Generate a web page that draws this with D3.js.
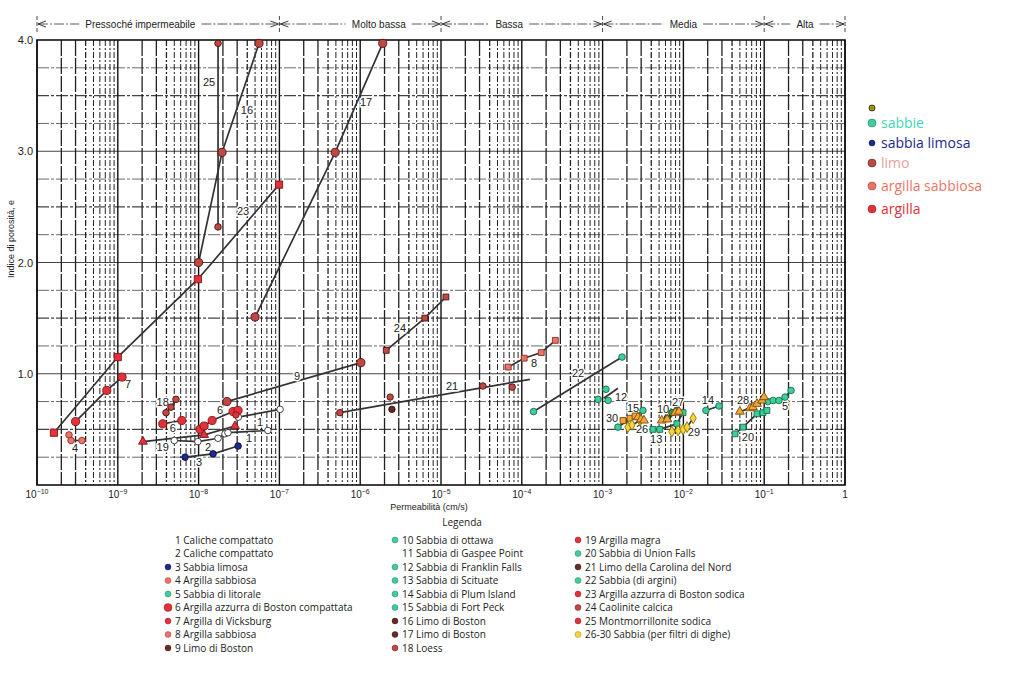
<!DOCTYPE html>
<html>
<head>
<meta charset="utf-8">
<script src="https://cdn.jsdelivr.net/npm/d3@7"></script>
<style>
body{margin:0;background:#fff}
text{font-family:"Liberation Sans",Arial,sans-serif}
.leg{font-family:"Open Sans","Noto Sans",sans-serif}
</style>
</head>
<body>
<div id="chart"></div>
<script>
// permeability k (cm/s) vs void ratio e
var kTicks = [1e-10,1e-9,1e-8,1e-7,1e-6,1e-5,1e-4,1e-3,1e-2,1e-1,1];
var eTicks = [1,2,3,4];
var zones = [
  ["Pressoché impermeabile",1e-10,1e-7,1.9e-9],
  ["Molto bassa",1e-7,1e-5,1.7e-6],
  ["Bassa",1e-5,1e-3,7e-5],
  ["Media",1e-3,1e-1,1.0e-2],
  ["Alta",1e-1,1,3.2e-1]
];

var series = [
  {id:"1",  mat:"white",  shape:"circle",   pts:[[3.1e-8,0.61],[1.02e-7,0.68]]},
  {id:"2",  mat:"white",  shape:"circle",   pts:[[5.0e-9,0.40],[9.8e-9,0.39],[1.74e-8,0.42],[2.12e-8,0.46],[2.31e-8,0.47],[7.2e-8,0.49]]},
  {id:"3",  mat:"navy",   shape:"circle",   pts:[[6.8e-9,0.25],[1.51e-8,0.28],[3.08e-8,0.35]]},
  {id:"4",  mat:"salmon", shape:"circle",   pts:[[2.49e-10,0.45],[2.64e-10,0.40],[3.6e-10,0.40]]},
  {id:"6a", mat:"red",    shape:"circle",   pts:[[3.6e-9,0.55],[6.2e-9,0.58]]},
  {id:"6b", mat:"red",    shape:"circle",   pts:[[1.04e-8,0.50],[1.17e-8,0.53],[1.47e-8,0.58],[2.67e-8,0.66],[3.08e-8,0.67]]},
  {id:"7",  mat:"red",    shape:"circle",   pts:[[3.0e-10,0.57],[7.3e-10,0.85],[1.13e-9,0.97]]},
  {id:"8",  mat:"salmon", shape:"square",   pts:[[6.8e-5,1.06],[1.07e-4,1.14],[1.74e-4,1.19],[2.6e-4,1.30]]},
  {id:"9",  mat:"limo",   shape:"circle",   pts:[[2.24e-8,0.75],[1.02e-6,1.10]]},
  {id:"10", mat:"dgreen", shape:"circle",   pts:[[6.3e-3,0.60],[7.2e-3,0.65],[8.3e-3,0.67]]},
  {id:"12", mat:"sand",   shape:"circle",   pts:[[8.8e-4,0.77],[1.10e-3,0.86],[1.17e-3,0.76]]},
  {id:"13", mat:"sand",   shape:"square",   pts:[[4.2e-3,0.50],[5.1e-3,0.50],[8.3e-3,0.55],[9.9e-3,0.65]]},
  {id:"14", mat:"sand",   shape:"circle",   pts:[[1.9e-2,0.67],[2.76e-2,0.71]]},
  {id:"15", mat:"sand",   shape:"circle",   pts:[[1.55e-3,0.52],[3.16e-3,0.67]]},
  {id:"16", mat:"limo",   shape:"circle",   pts:[[1.0e-8,2.00],[1.95e-8,2.99],[5.6e-8,3.97]]},
  {id:"17", mat:"limo",   shape:"circle",   pts:[[5.0e-8,1.51],[4.9e-7,2.99],[1.9e-6,3.97]]},
  {id:"18", mat:"limo",   shape:"circle",   pts:[[3.95e-9,0.65],[4.55e-9,0.70],[5.25e-9,0.77]]},
  {id:"19", mat:"red",    shape:"triangle", pts:[[2.05e-9,0.39],[1.17e-8,0.45],[2.82e-8,0.53]]},
  {id:"20", mat:"sand",   shape:"square",   pts:[[4.36e-2,0.46],[5.47e-2,0.52],[8.15e-2,0.64],[9.66e-2,0.65],[1.08e-1,0.67]]},
  {id:"5",  mat:"sand",   shape:"circle",   pts:[[1.11e-1,0.75],[1.29e-1,0.76],[1.52e-1,0.76],[1.81e-1,0.79],[2.15e-1,0.85]]},
  {id:"21", mat:"limo",   shape:"circle",   pts:[[5.6e-7,0.65],[3.3e-5,0.89],[7.6e-5,0.88]]},
  {id:"22", mat:"sand",   shape:"circle",   pts:[[1.4e-4,0.66],[1.74e-3,1.15]]},
  {id:"23", mat:"red",    shape:"square",   pts:[[1.62e-10,0.47],[1.0e-9,1.15],[9.8e-9,1.85],[9.9e-8,2.70]]},
  {id:"24", mat:"limo",   shape:"square",   pts:[[2.1e-6,1.21],[6.3e-6,1.50],[1.15e-5,1.69]]},
  {id:"25", mat:"limo",   shape:"circle",   pts:[[1.74e-8,3.97],[1.74e-8,2.32]]},
  {id:"30", mat:"orange", shape:"square",   pts:[[1.79e-3,0.58],[2.18e-3,0.60],[2.52e-3,0.62]]},
  {id:"26", mat:"yellow", shape:"diamond",  pts:[[2.06e-3,0.52],[2.31e-3,0.54],[2.9e-3,0.58]]},
  {id:"26b",mat:"orange", shape:"triangle", pts:[[2.74e-3,0.61],[2.99e-3,0.59],[3.25e-3,0.58]]},
  {id:"27", mat:"orange", shape:"triangle", pts:[[5.4e-3,0.58],[6.3e-3,0.59],[7.9e-3,0.65],[8.8e-3,0.66]]},
  {id:"29", mat:"yellow", shape:"diamond",  pts:[[7.2e-3,0.48],[8.6e-3,0.49],[9.9e-3,0.50],[1.11e-2,0.52],[1.32e-2,0.60]]},
  {id:"28", mat:"orange", shape:"triangle", pts:[[5.0e-2,0.66],[6.67e-2,0.69],[7.26e-2,0.70],[8.15e-2,0.73],[9.4e-2,0.76],[9.96e-2,0.79]]}
];
// fitted lines that run past the points
var fits = {
  "12": [[1.03e-3,0.78],[1.55e-3,0.87]],
  "21": [[5.6e-7,0.65],[1.26e-4,0.95]]
};
var loose = [["limo",2.35e-6,0.79],["dark",2.47e-6,0.68],["red",2.9e-8,0.63]];

var tags = [
  ["25",1.35e-8,3.62],["16",3.97e-8,3.37],["17",1.18e-6,3.44],["23",3.55e-8,2.46],
  ["7",1.34e-9,0.91],["4",2.95e-10,0.33],["18",3.6e-9,0.75],["6",4.8e-9,0.51],
  ["6",1.84e-8,0.67],["19",3.6e-9,0.34],["2",1.31e-8,0.34],["3",1.01e-8,0.21],
  ["1",5.75e-8,0.57],["1",4.2e-8,0.42],["9",1.65e-7,0.98],["24",3.1e-6,1.41],
  ["21",1.37e-5,0.89],["8",1.42e-4,1.10],["22",4.97e-4,1.01],["12",1.69e-3,0.79],
  ["15",2.38e-3,0.69],["30",1.31e-3,0.60],["26",3.08e-3,0.50],["13",4.6e-3,0.41],
  ["10",5.6e-3,0.68],["27",8.6e-3,0.75],["29",1.35e-2,0.48],["14",2.01e-2,0.76],
  ["28",5.47e-2,0.76],["20",6.3e-2,0.43],["5",1.81e-1,0.71]
];

var groups = [
  ["sabbie","sand"],["sabbia limosa","navy"],["limo","limo"],
  ["argilla sabbiosa","salmon"],["argilla","red"]
];

var legendCols = [
  [["1 Caliche compattato",null],["2 Caliche compattato",null],["3 Sabbia limosa","navy"],
   ["4 Argilla sabbiosa","salmon"],["5 Sabbia di litorale","sand"],
   ["6 Argilla azzurra di Boston compattata","red"],["7 Argilla di Vicksburg","red"],
   ["8 Argilla sabbiosa","salmon"],["9 Limo di Boston","dark"]],
  [["10 Sabbia di ottawa","sand"],["11 Sabbia di Gaspee Point",null],
   ["12 Sabbia di Franklin Falls","sand"],["13 Sabbia di Scituate","sand"],
   ["14 Sabbia di Plum Island","sand"],["15 Sabbia di Fort Peck","sand"],
   ["16 Limo di Boston","dark"],["17 Limo di Boston","dark"],["18 Loess","limo"]],
  [["19 Argilla magra","red"],["20 Sabbia di Union Falls","sand"],
   ["21 Limo della Carolina del Nord","dark"],["22 Sabbia (di argini)","sand"],
   ["23 Argilla azzurra di Boston sodica","red"],["24 Caolinite calcica","limo"],
   ["25 Montmorrillonite sodica","red"],["26-30 Sabbia (per filtri di dighe)","yellow"]]
];

var look = {
  white:  ["#ffffff","#333333"],
  navy:   ["#1c2a8a","#0a0a40"],
  sand:   ["#3ccf9c","#1d6b4a"],
  dgreen: ["#2f9a48","#163f1c"],
  salmon: ["#ea7566","#8a3028"],
  red:    ["#e4303a","#7a1818"],
  limo:   ["#c04842","#4a1414"],
  dark:   ["#6a2a24","#2a0a0a"],
  orange: ["#f0a838","#7a4a10"],
  yellow: ["#f6d43a","#8a7010"]
};
var shapes = {circle:d3.symbolCircle, square:d3.symbolSquare, triangle:d3.symbolTriangle, diamond:d3.symbolDiamond};

var W = 1024, H = 678;
var svg = d3.select("#chart").append("svg").attr("width", W).attr("height", H);

var x = d3.scaleLog().domain([1e-10, 1]).range([37, 845]);
var y = d3.scaleLinear().domain([0, 4]).range([485, 40]);

// grid
var grid = svg.append("g");
d3.range(0.25, 4, 0.25).forEach(function(v){
  grid.append("line")
    .attr("x1", x(1e-10)).attr("x2", x(1))
    .attr("y1", y(v)).attr("y2", y(v))
    .attr("stroke", "#444").attr("stroke-width", v % 0.5 == 0 ? 1.1 : 0.8)
    .attr("stroke-dasharray", v % 1 == 0 ? null : "12,2,3,2");
});
kTicks.slice(0, -1).forEach(function(d){
  for (var m = 2; m <= 9; m++) {
    grid.append("line")
      .attr("x1", x(d*m)).attr("x2", x(d*m))
      .attr("y1", y(4)).attr("y2", y(0))
      .attr("stroke", "#222").attr("stroke-width", m < 5 ? 1.3 : 1)
      .attr("stroke-dasharray", m < 4 ? "16,2" : "6,2,2,2");
  }
});
kTicks.forEach(function(d){
  grid.append("line")
    .attr("x1", x(d)).attr("x2", x(d))
    .attr("y1", y(4)).attr("y2", y(0))
    .attr("stroke", "#111").attr("stroke-width", 1.4);
});
svg.append("rect")
  .attr("x", x(1e-10)).attr("y", y(4))
  .attr("width", x(1) - x(1e-10)).attr("height", y(0) - y(4))
  .attr("fill", "none").attr("stroke", "#111").attr("stroke-width", 1.6);

// axes labels
svg.selectAll(".ky").data(eTicks).enter().append("text")
  .attr("x", 33).attr("y", function(d){ return y(d) + 4; })
  .attr("text-anchor", "end").attr("font-size", 11).attr("fill", "#222")
  .text(function(d){ return d.toFixed(1); });

kTicks.forEach(function(d){
  var t = svg.append("text")
    .attr("x", x(d)).attr("y", 498)
    .attr("text-anchor", "middle").attr("font-size", 10).attr("fill", "#222");
  if (d == 1) { t.text("1"); return; }
  t.append("tspan").text("10");
  t.append("tspan").attr("dy", -4).attr("font-size", 7)
    .text("\u2212" + Math.round(-Math.log10(d)));
});

svg.append("text")
  .attr("transform", "translate(14,239) rotate(-90)")
  .attr("text-anchor", "middle").attr("font-size", 9).attr("fill", "#222")
  .text("Indice di porosità, e");
svg.append("text")
  .attr("x", 429).attr("y", 510)
  .attr("text-anchor", "middle").attr("font-size", 9).attr("fill", "#222")
  .text("Permeabilità (cm/s)");

// header zones
var hy = 24;
zones.forEach(function(z){
  var x0 = x(z[1]), x1 = x(z[2]), tx = x(z[3]);
  var t = svg.append("text").attr("x", tx).attr("y", hy + 3.5)
    .attr("text-anchor", "middle").attr("font-size", 10).attr("fill", "#222").text(z[0]);
  var w = t.node().getComputedTextLength();
  [[x0 + 1, tx - w/2 - 6], [tx + w/2 + 6, x1 - 1]].forEach(function(s){
    svg.append("line").attr("x1", s[0]).attr("x2", s[1]).attr("y1", hy).attr("y2", hy)
      .attr("stroke", "#333").attr("stroke-width", 0.8).attr("stroke-dasharray", "10,2,2,2");
  });
  svg.append("path").attr("fill", "none").attr("stroke", "#222").attr("stroke-width", 0.9)
    .attr("d", "M" + (x0 + 9) + "," + (hy - 3) + "L" + (x0 + 1) + "," + hy + "L" + (x0 + 9) + "," + (hy + 3) +
               "M" + (x1 - 9) + "," + (hy - 3) + "L" + (x1 - 1) + "," + hy + "L" + (x1 - 9) + "," + (hy + 3));
});
kTicks.filter(function(d, i){ return [0,3,5,7,9,10].indexOf(i) >= 0; }).forEach(function(d){
  svg.append("line").attr("x1", x(d)).attr("x2", x(d)).attr("y1", 16).attr("y2", 34)
    .attr("stroke", "#333").attr("stroke-width", 0.9).attr("stroke-dasharray", "4,2");
});

// series
var line = d3.line().x(function(d){ return x(d[0]); }).y(function(d){ return y(d[1]); });
var plot = svg.append("g");
series.forEach(function(s){
  plot.append("path").attr("d", line(fits[s.id] || s.pts))
    .attr("fill", "none").attr("stroke", "#333").attr("stroke-width", 1.7);
});
// number tags sit on a white patch, as on the scanned sheet
plot.selectAll(".tag").data(tags).enter().append("text")
  .attr("x", function(d){ return x(d[1]); }).attr("y", function(d){ return y(d[2]) + 4; })
  .attr("text-anchor", "middle").attr("font-size", 11).attr("fill", "#222")
  .attr("stroke", "#fff").attr("stroke-width", 3).attr("paint-order", "stroke")
  .text(function(d){ return d[0]; });
series.forEach(function(s){
  var c = look[s.mat];
  var big = ["16","17","23","6a","6b","7","9"].indexOf(s.id) >= 0;
  plot.selectAll(null).data(s.pts).enter().append("path")
    .attr("transform", function(d){ return "translate(" + x(d[0]) + "," + y(d[1]) + ")"; })
    .attr("d", d3.symbol().type(shapes[s.shape]).size(big ? 52 : 34))
    .attr("fill", c[0]).attr("stroke", c[1]).attr("stroke-width", 0.9);
});
loose.forEach(function(p){
  plot.append("circle").attr("cx", x(p[1])).attr("cy", y(p[2])).attr("r", 3.2)
    .attr("fill", look[p[0]][0]).attr("stroke", look[p[0]][1]).attr("stroke-width", 0.9);
});

// right-hand material key
svg.append("circle").attr("cx", 872).attr("cy", 108).attr("r", 3)
  .attr("fill", "#8a9a20").attr("stroke", "#4a3a10");
var rk = [123, 143, 163, 186, 209];
groups.forEach(function(g, i){
  var c = look[g[1]];
  svg.append("circle").attr("cx", 872).attr("cy", rk[i]).attr("r", i == 1 ? 3 : 4)
    .attr("fill", c[0]).attr("stroke", c[1]).attr("stroke-width", 0.5);
  svg.append("text").attr("class", "leg").attr("x", 881).attr("y", rk[i] + 5)
    .attr("font-size", 14).attr("fill", g[1] == "limo" ? "#eaa0a0" : (g[1] == "sand" ? "#3cd8b8" : c[0]))
    .text(g[0]);
});

// bottom legend
svg.append("text").attr("class", "leg").attr("x", 462).attr("y", 526)
  .attr("text-anchor", "middle").attr("font-size", 10).attr("fill", "#222").text("Legenda");
var colX = [175, 402, 585];
legendCols.forEach(function(col, ci){
  col.forEach(function(it, i){
    var yy = 540 + i * 13.5;
    if (it[1]) {
      var c = look[it[1]];
      svg.append("circle").attr("cx", colX[ci] - 7).attr("cy", yy)
        .attr("r", it[1] == "red" && ci == 0 && i == 5 ? 4 : 3)
        .attr("fill", c[0]).attr("stroke", c[1]).attr("stroke-width", 0.4);
    }
    svg.append("text").attr("class", "leg").attr("x", colX[ci]).attr("y", yy + 3.5)
      .attr("font-size", 10).attr("fill", "#222").text(it[0]);
  });
});
</script>
</body>
</html>
